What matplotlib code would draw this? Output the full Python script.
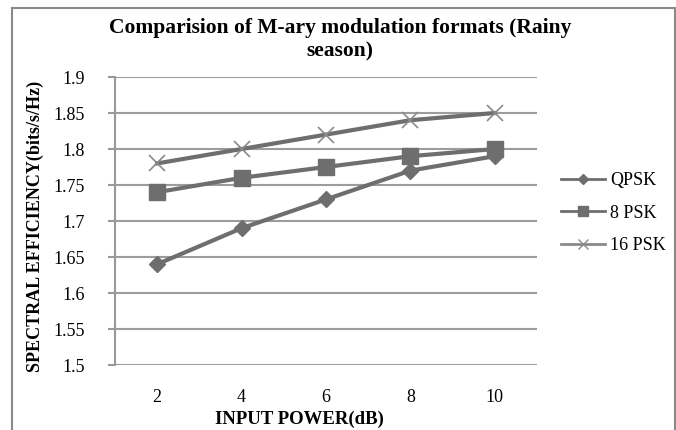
import matplotlib
matplotlib.use("Agg")
import matplotlib.pyplot as plt
from matplotlib.lines import Line2D
from matplotlib.patches import Rectangle

categories = ["2", "4", "6", "8", "10"]
qpsk = [1.64, 1.69, 1.73, 1.77, 1.79]
psk8 = [1.74, 1.76, 1.775, 1.79, 1.80]
psk16 = [1.78, 1.80, 1.82, 1.84, 1.85]
yticks = [1.5, 1.55, 1.6, 1.65, 1.7, 1.75, 1.8, 1.85, 1.9]
ytick_labels = ["1.5", "1.55", "1.6", "1.65", "1.7", "1.75", "1.8", "1.85", "1.9"]
series_names = ["QPSK", "8 PSK", "16 PSK"]

plt.rcParams['font.family'] = ['Liberation Serif', 'DejaVu Serif']

W, H = 676, 430
fig = plt.figure(figsize=(W / 100, H / 100), dpi=100)
fig.patch.set_facecolor('white')

# outer chart border
fig.add_artist(Rectangle((12 / W, -0.01), (675 - 12) / W, 1 - 8 / H + 0.01,
                         transform=fig.transFigure, fill=False,
                         edgecolor='#8a8a8a', linewidth=1.5))

ax = fig.add_axes([115 / W, 1 - 365 / H, (537 - 115) / W, (365 - 77) / H])
x = list(range(1, len(categories) + 1))

line_col = '#6e6e6e'
ax.plot(x, qpsk, color=line_col, lw=3, marker='D', ms=8.5, mfc=line_col, mec=line_col, zorder=3)
ax.plot(x, psk8, color=line_col, lw=3, marker='s', ms=11, mfc=line_col, mec=line_col, zorder=3)
ax.plot(x, psk16, color=line_col, lw=3, marker='x', ms=12, mew=1.2, mec='#8a8a8a', zorder=3)

ax.set_xlim(0.5, len(categories) + 0.5)
ax.set_ylim(1.5, 1.9)
ax.set_yticks(yticks)
ax.set_yticklabels(ytick_labels, fontsize=13)
ax.set_xticks(x)
ax.set_xticklabels(categories, fontsize=13)
ax.tick_params(axis='x', length=0, pad=17)
ax.tick_params(axis='y', length=5, width=1.5, color='#999999', pad=17)
ax.yaxis.grid(True, color='#9c9c9c', lw=1.5)
ax.set_axisbelow(True)
for s in ['top', 'right', 'bottom']:
    ax.spines[s].set_visible(False)
ax.spines['left'].set_color('#999999')
ax.spines['left'].set_linewidth(1.5)

fig.text(340 / W, 1 - 40 / H, "Comparision of M-ary modulation formats (Rainy\nseason)",
         ha='center', va='center', fontsize=15.5, fontweight='bold', linespacing=1.2)
fig.text(35 / W, 1 - 226 / H, "SPECTRAL EFFICIENCY(bits/s/Hz)", rotation=90,
         ha='center', va='center', fontsize=13, fontweight='bold')
fig.text(299 / W, 1 - 419 / H, "INPUT POWER(dB)", ha='center', va='center',
         fontsize=13.5, fontweight='bold')

handles = [
    Line2D([], [], color=line_col, lw=2, marker='D', ms=5, mfc=line_col, mec=line_col),
    Line2D([], [], color=line_col, lw=2, marker='s', ms=7, mfc=line_col, mec=line_col),
    Line2D([], [], color='#8a8a8a', lw=2, marker='x', ms=7, mew=1, mec='#8a8a8a'),
]
fig.legend(handles, series_names, loc='center left', bbox_to_anchor=(545 / W, 1 - 213 / H),
           frameon=False, fontsize=13, handlelength=2.4, labelspacing=0.85, handletextpad=0.3)

fig.savefig("out.png", dpi=100)
